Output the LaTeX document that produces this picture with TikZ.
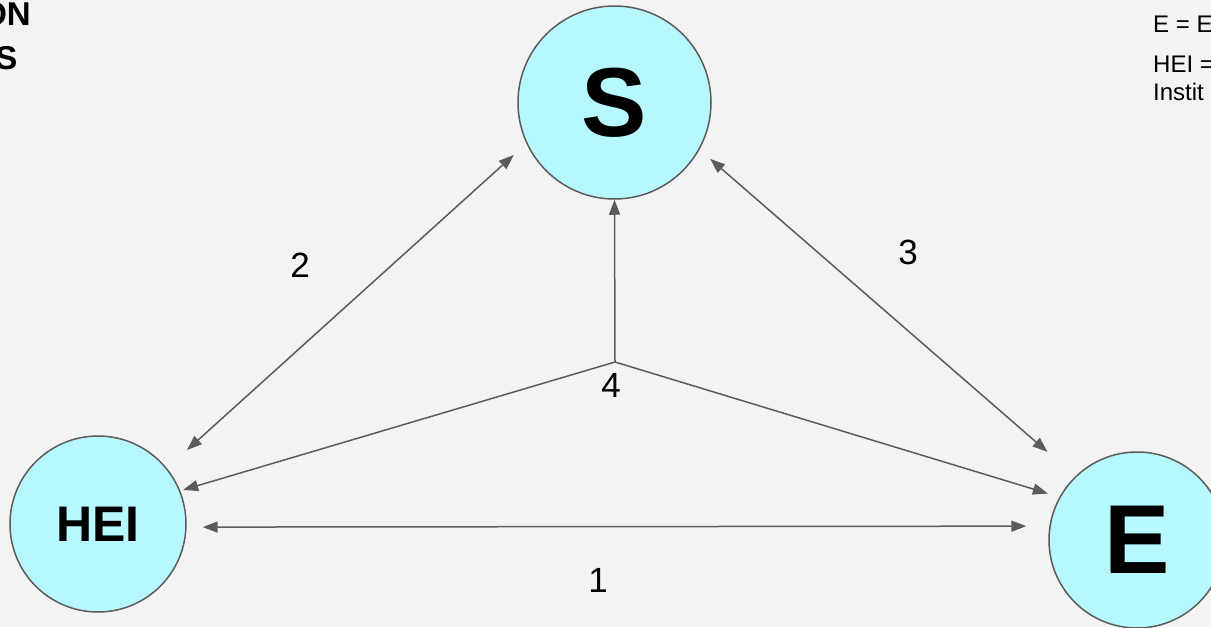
\documentclass[tikz,border=0pt]{standalone}
\usepackage{fontspec}
\setmainfont{Liberation Sans}
\usetikzlibrary{arrows.meta}
\definecolor{bubble}{RGB}{183,248,255}
\definecolor{rim}{RGB}{91,91,91}
\definecolor{paper}{RGB}{243,243,243}

\begin{document}
\begin{tikzpicture}[x=1pt, y=-1pt]
        \tikzstyle{every node}=[inner sep=0pt]
        \tikzstyle{party}=[circle, draw=rim, fill=bubble, line width=1.5pt]
        \tikzstyle{twoway}=[draw=rim, line width=1.5pt, {Triangle[length=15pt,width=11pt]}-{Triangle[length=15pt,width=11pt]}]
        \tikzstyle{oneway}=[draw=rim, line width=1.5pt, -{Triangle[length=15pt,width=11pt]}]
        \tikzstyle{num}=[font=\fontsize{35}{35}\selectfont]
        \tikzstyle{note}=[anchor=base west, font=\fontsize{24}{24}\selectfont]
        \useasboundingbox (0,0) rectangle (1211,627);
        \clip (0,0) rectangle (1211,627);
        \fill[paper] (0,0) rectangle (1211,627);
        % the three parties
        \node[party, minimum size=193pt, font=\fontsize{98}{98}\selectfont\bfseries] (S) at (614.5,102.5) {S};
        \node[party, minimum size=176pt, font=\fontsize{50}{50}\selectfont\bfseries] (HEI) at (98,524) {HEI};
        \node[party, minimum size=176pt, font=\fontsize{98}{98}\selectfont\bfseries] (E) at (1137,540) {E};
        % links between them
        \coordinate (hub) at (615,362);
        \draw[twoway, shorten <=16pt, shorten >=23pt] (HEI.-2) -- (E.171.5);
        \draw[twoway, shorten <=27pt, shorten >=17pt] (HEI.39.4) -- (S.205.2);
        \draw[twoway, shorten <=14pt, shorten >=37pt] (S.-29.5) -- (E.134.7);
        \draw[oneway] (hub) -- (S.south);
        \draw[oneway, shorten >=3pt] (hub) -- (HEI.22.6);
        \draw[oneway, shorten >=12pt] (hub) -- (E.151.9);
        \node[num] (n1) at (598,580) {1};
        \node[num] (n2) at (300,265) {2};
        \node[num] (n3) at (908,252) {3};
        \node[num] (n4) at (611,385) {4};
        % cut-off title and key
        \node[anchor=base east, font=\fontsize{33}{33}\selectfont\bfseries] (title1) at (31,25) {ON};
        \node[anchor=base east, font=\fontsize{33}{33}\selectfont\bfseries] (title2) at (17.5,69.5) {S};
        \node[note] (key1) at (1153,32) {E = E};
        \node[note] (key2) at (1153,72) {HEI =};
        \node[note] (key3) at (1153,100) {Instit};
    \end{tikzpicture}
\end{document}
